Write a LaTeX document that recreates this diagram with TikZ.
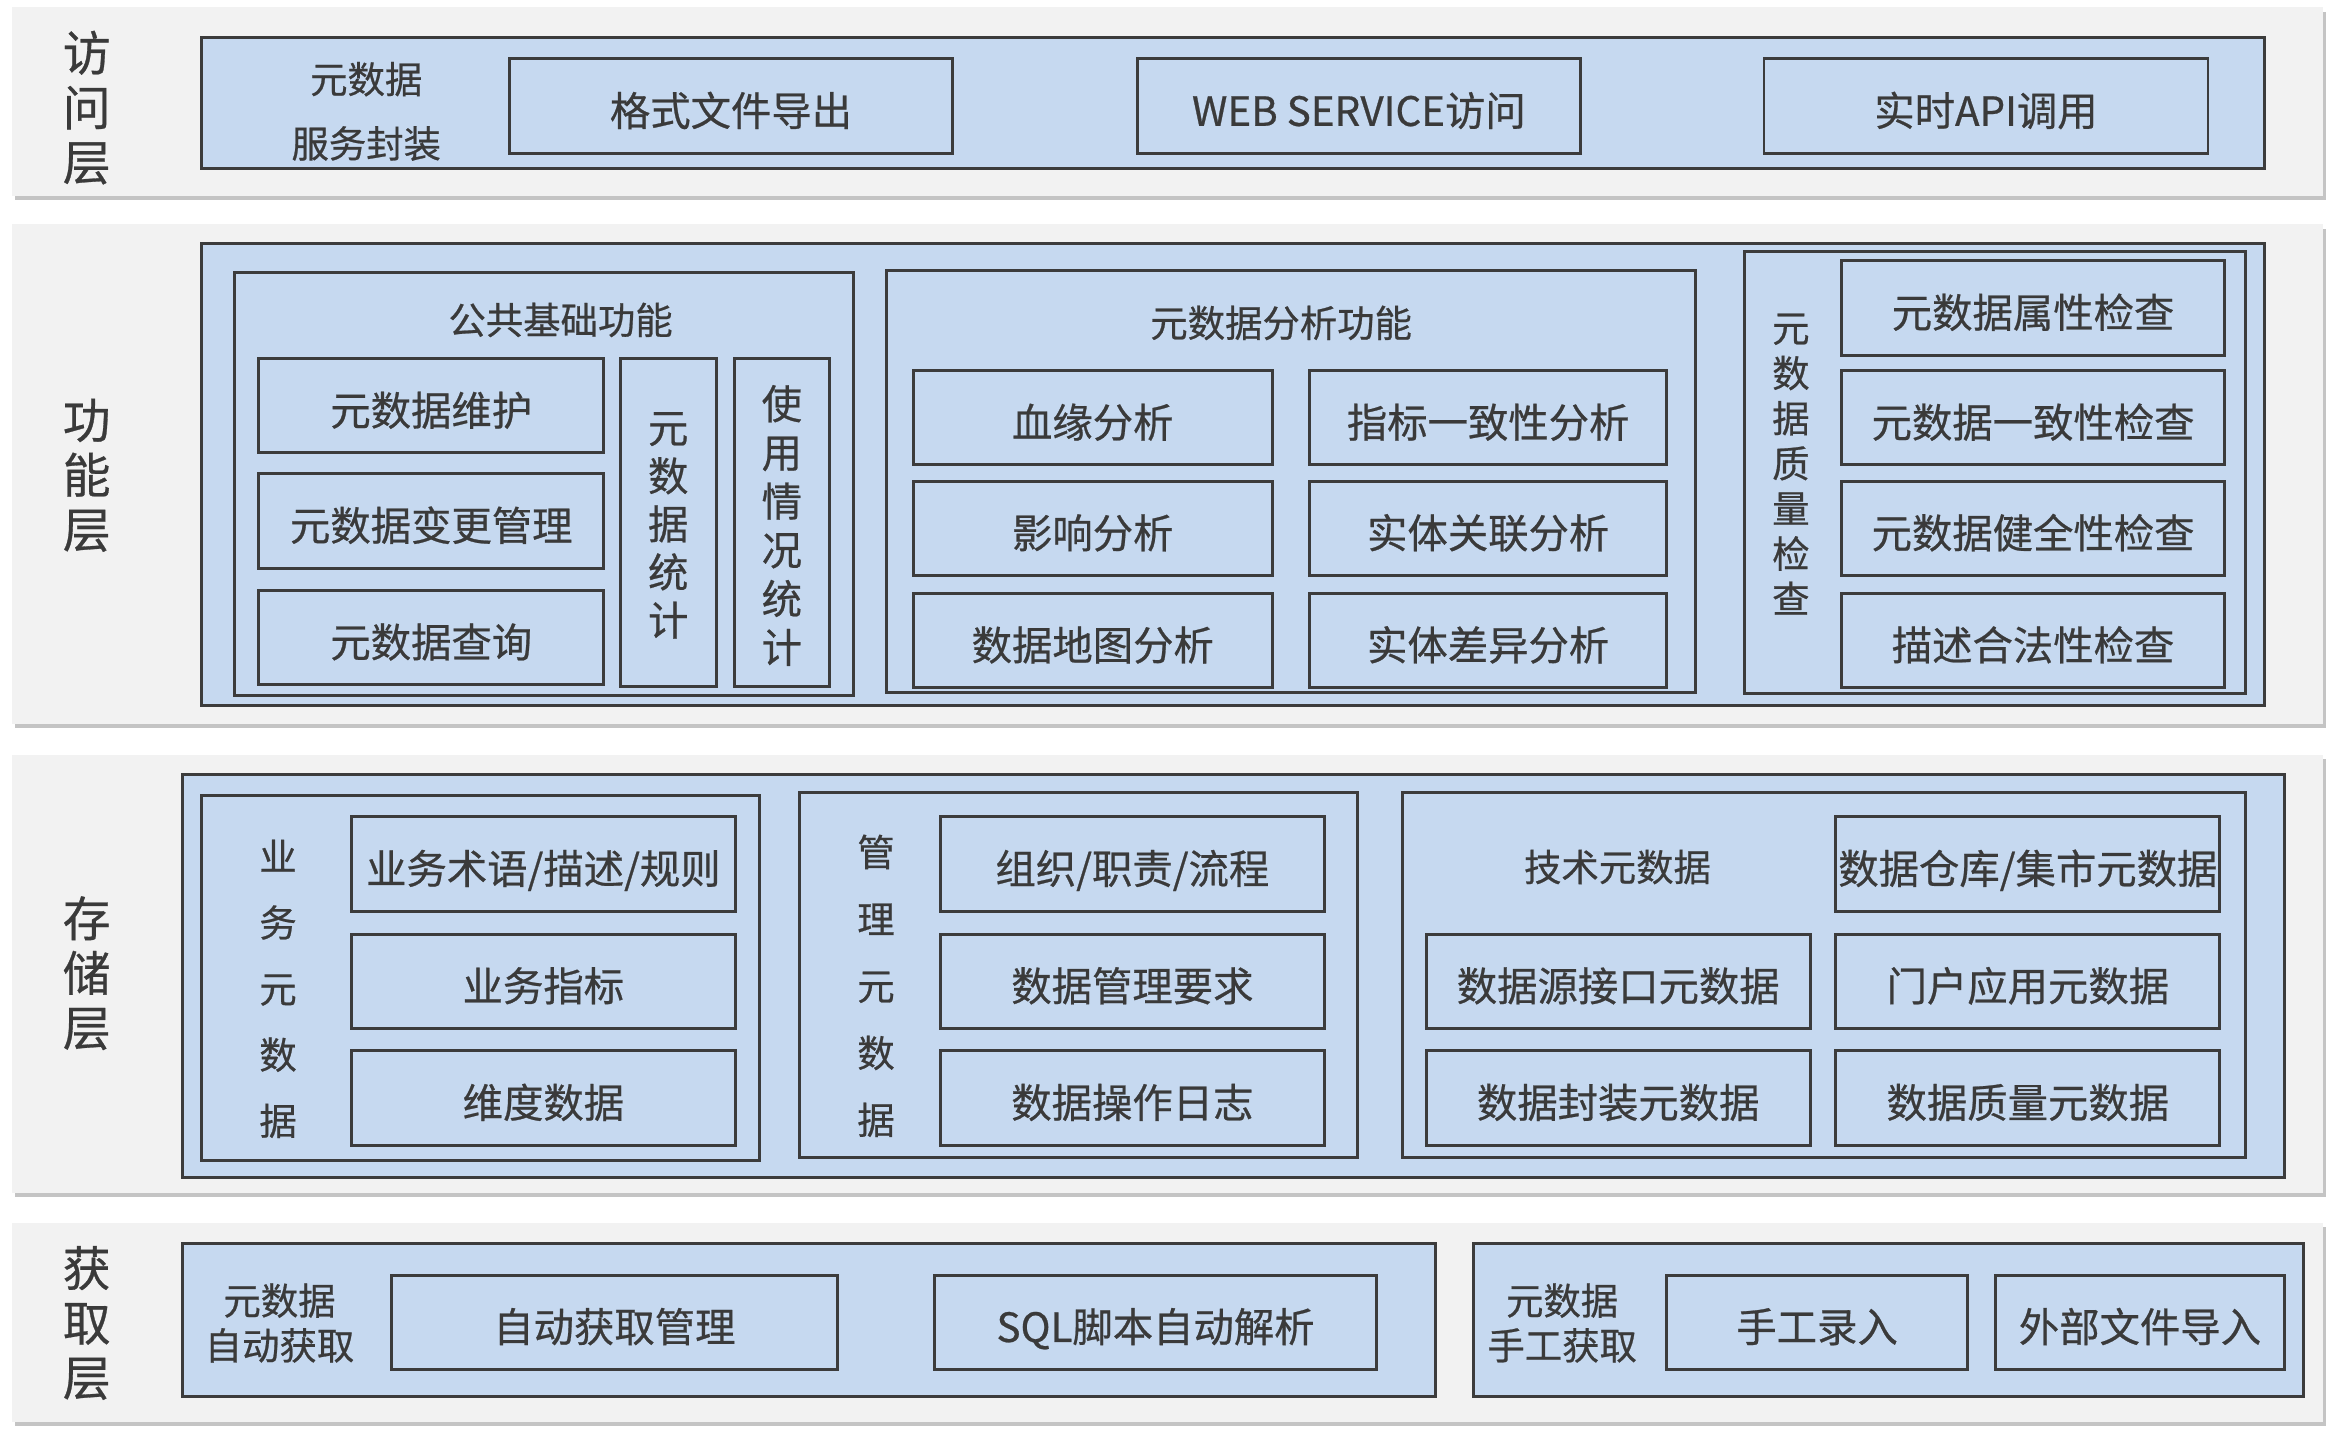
\documentclass[tikz,border=0pt]{standalone}
\usepackage{fontspec}
\setmainfont{Noto Sans CJK SC}[FakeBold=0.6]
\usetikzlibrary{positioning}
\definecolor{bandgray}{HTML}{F2F2F2}
\definecolor{shadowgray}{HTML}{C4C4C4}
\definecolor{boxblue}{HTML}{C6D9F0}
\definecolor{edgec}{HTML}{3C3C3C}
\definecolor{txtc}{HTML}{3A3A3A}
\tikzset{
  band/.style={fill=bandgray,draw=none},
  bandshadow/.style={fill=shadowgray,draw=none},
  itembox/.style={rectangle,fill=boxblue,draw=edgec,line width=1pt,inner sep=0pt,outer sep=0pt,text=txtc,font=\fontsize{13.5}{16}\selectfont,align=center},
  itemtext/.style={text height=13.2pt,text depth=0pt},
  lbl/.style={inner sep=0pt,text=txtc,align=center},
  layerlbl/.style={lbl,font=\fontsize{16}{18.3}\selectfont},
}
% \bxn{name}{x1}{y1}{x2}{y2}{text}
\newcommand\bxn[6]{\node[itembox,itemtext,minimum width={(#4-#2)*0.5pt},minimum height={(#5-#3)*0.5pt}] (#1) at ({(#2+#4)/2},{(#3+#5)/2}) {#6};}
\newcommand\obx[5]{\node[itembox,minimum width={(#4-#2)*0.5pt},minimum height={(#5-#3)*0.5pt}] (#1) at ({(#2+#4)/2},{(#3+#5)/2}) {};}
\newcommand\bandn[5]{%
  \fill[bandshadow] (#2+2,#3+3) rectangle (#4+2,#5+3);
  \node[band,inner sep=0pt,outer sep=0pt,minimum width={(#4-#2)*0.5pt},minimum height={(#5-#3)*0.5pt}] (#1) at ({(#2+#4)/2},{(#3+#5)/2}) {};}
\begin{document}
\begin{tikzpicture}[x=0.5pt,y=-0.5pt]
\useasboundingbox[fill=white] (0,0) rectangle (1568,963);

% ---------- bands ----------
\bandn{b1}{8}{5}{1554}{131}
\bandn{b2}{8}{150}{1554}{484}
\bandn{b3}{8}{505}{1554}{798}
\bandn{b4}{8}{818}{1554}{951}

\node[layerlbl] (l1) at (58,72) {访\\问\\层};
\node[layerlbl] (l2) at (58,318) {功\\能\\层};
\node[layerlbl] (l3) at (58,651) {存\\储\\层};
\node[layerlbl] (l4) at (58,885) {获\\取\\层};

% ---------- access layer ----------
\obx{acc}{135}{25}{1515}{113}
\node[lbl,font=\fontsize{12.5}{21.5}\selectfont] (accl) at (245,74.5) {元数据\\服务封装};
\bxn{a1}{341}{39}{637}{103}{格式文件导出}
\bxn{a2}{761}{39}{1057}{103}{WEB SERVICE访问}
\bxn{a3}{1180}{39}{1477}{103}{实时API调用}

% ---------- function layer ----------
\obx{fun}{135}{163}{1515}{472}
\obx{pub}{157}{182}{571}{465}
\node[lbl,font=\fontsize{12.5}{15}\selectfont] (pubt) at (375,214) {公共基础功能};
\bxn{p1}{173}{240}{404}{303}{元数据维护}
\bxn{p2}{173}{317}{404}{380}{元数据变更管理}
\bxn{p3}{173}{395}{404}{458}{元数据查询}
\obx{p4}{415}{240}{479}{459}
\node[lbl,font=\fontsize{13.5}{16.1}\selectfont] (p4t) at (447,351.5) {元\\数\\据\\统\\计};
\obx{p5}{491}{240}{555}{459}
\node[lbl,font=\fontsize{13.5}{16.3}\selectfont] (p5t) at (523,351.5) {使\\用\\情\\况\\统\\计};

\obx{ana}{593}{181}{1134}{463}
\node[lbl,font=\fontsize{12.5}{15}\selectfont] (anat) at (857,216) {元数据分析功能};
\bxn{n1}{611}{248}{851}{311}{血缘分析}
\bxn{n2}{611}{322}{851}{385}{影响分析}
\bxn{n3}{611}{397}{851}{460}{数据地图分析}
\bxn{n4}{876}{248}{1115}{311}{指标一致性分析}
\bxn{n5}{876}{322}{1115}{385}{实体关联分析}
\bxn{n6}{876}{397}{1115}{460}{实体差异分析}

\obx{qua}{1167}{168}{1502}{464}
\node[lbl,font=\fontsize{12.5}{15.1}\selectfont] (quat) at (1198,310.5) {元\\数\\据\\质\\量\\检\\查};
\bxn{q1}{1232}{174}{1488}{238}{元数据属性检查}
\bxn{q2}{1232}{248}{1488}{311}{元数据一致性检查}
\bxn{q3}{1232}{322}{1488}{385}{元数据健全性检查}
\bxn{q4}{1232}{397}{1488}{460}{描述合法性检查}

% ---------- storage layer ----------
\obx{sto}{122}{518}{1528}{788}
\obx{bus}{135}{532}{508}{776}
\node[lbl,font=\fontsize{12.5}{22.1}\selectfont] (bust) at (186,661.5) {业\\务\\元\\数\\据};
\bxn{s1}{235}{546}{492}{610}{业务术语/描述/规则}
\bxn{s2}{235}{625}{492}{688}{业务指标}
\bxn{s3}{235}{703}{492}{766}{维度数据}

\obx{man}{535}{530}{908}{774}
\node[lbl,font=\fontsize{12.5}{22.4}\selectfont] (mant) at (586,659.5) {管\\理\\元\\数\\据};
\bxn{m1}{629}{546}{886}{610}{组织/职责/流程}
\bxn{m2}{629}{625}{886}{688}{数据管理要求}
\bxn{m3}{629}{703}{886}{766}{数据操作日志}

\obx{tec}{938}{530}{1502}{774}
\node[lbl,font=\fontsize{12.5}{15}\selectfont] (tect) at (1082,580) {技术元数据};
\bxn{t1}{1228}{546}{1485}{610}{数据仓库/集市元数据}
\bxn{t2}{954}{625}{1211}{688}{数据源接口元数据}
\bxn{t3}{1228}{625}{1485}{688}{门户应用元数据}
\bxn{t4}{954}{703}{1211}{766}{数据封装元数据}
\bxn{t5}{1228}{703}{1485}{766}{数据质量元数据}

% ---------- acquisition layer ----------
\obx{auto}{122}{832}{960}{934}
\node[lbl,font=\fontsize{12.5}{15}\selectfont] (autot) at (187,885) {元数据\\自动获取};
\bxn{g1}{262}{853}{560}{916}{自动获取管理}
\bxn{g2}{625}{853}{921}{916}{SQL脚本自动解析}

\obx{manu}{986}{832}{1541}{934}
\node[lbl,font=\fontsize{12.5}{15}\selectfont] (manut) at (1045,885) {元数据\\手工获取};
\bxn{h1}{1115}{853}{1316}{916}{手工录入}
\bxn{h2}{1335}{853}{1528}{916}{外部文件导入}
\end{tikzpicture}
\end{document}
